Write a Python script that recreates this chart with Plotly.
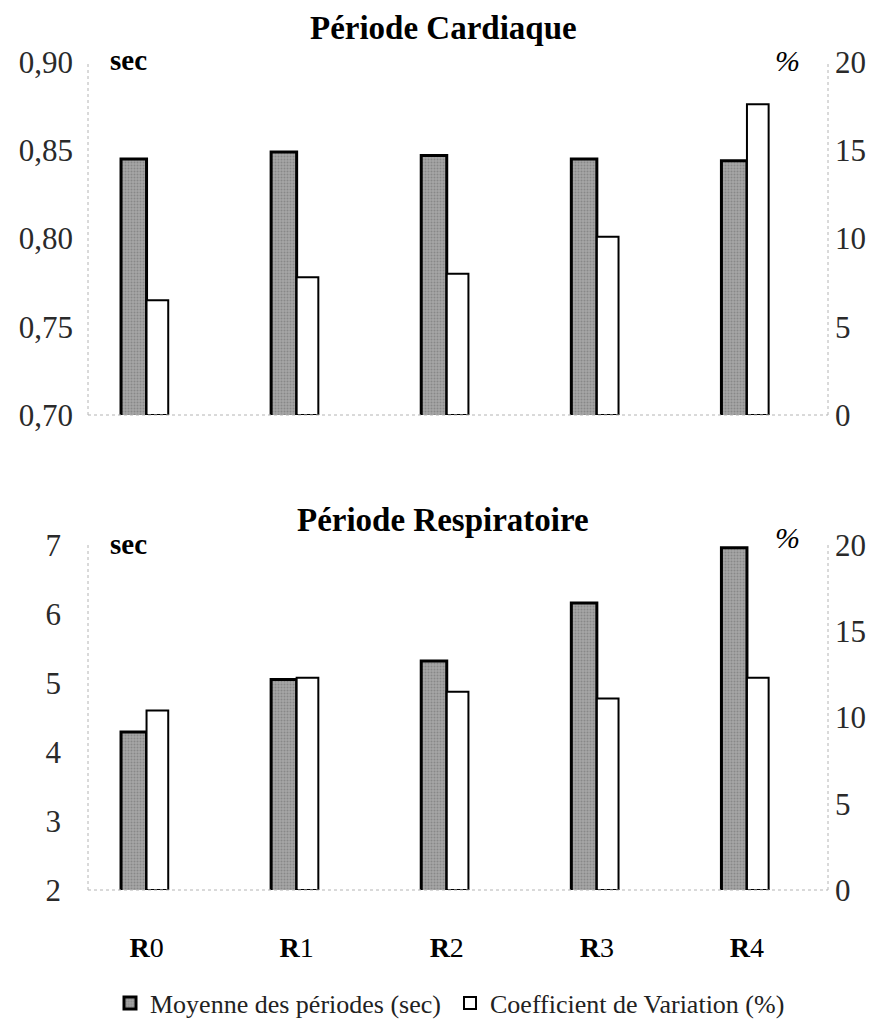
import plotly.graph_objects as go

# Groups (x axis)
categories = ["R0", "R1", "R2", "R3", "R4"]
category_text = ["<b>R</b>0", "<b>R</b>1", "<b>R</b>2", "<b>R</b>3", "<b>R</b>4"]

# Cardiac period: mean (sec) and coefficient of variation (%)
cardiac_mean = [0.845, 0.849, 0.847, 0.845, 0.844]
cardiac_cv = [6.5, 7.8, 8.0, 10.1, 17.6]

# Respiratory period: mean (sec) and coefficient of variation (%)
resp_mean = [4.29, 5.05, 5.32, 6.16, 6.96]
resp_cv = [10.4, 12.3, 11.5, 11.1, 12.3]

left_ticks_top = [0.70, 0.75, 0.80, 0.85, 0.90]
left_ticks_bottom = [2, 3, 4, 5, 6, 7]
right_ticks = [0, 5, 10, 15, 20]

SERIF = "Liberation Serif, Times New Roman, serif"
W, H = 883, 1019
GRAY = "#a6a6a6"

xdom = [88 / W, 828 / W]
top_dom = [1 - 415 / H, 1 - 62 / H]
bot_dom = [1 - 890 / H, 1 - 545 / H]
xrange_ = [-0.39, 4.54]
BW = 0.17

fig = go.Figure()


def mean_bar(y, xa, ya, show):
    return go.Bar(
        x=list(range(len(categories))), y=y, xaxis=xa, yaxis=ya,
        width=BW, offset=-BW,
        marker=dict(color=GRAY, line=dict(color="black", width=3),
                    pattern=dict(shape=".", fgcolor="#6a6a6a", bgcolor=GRAY,
                                 size=3, solidity=0.35)),
        name="Moyenne des périodes (sec)", showlegend=show,
        legendgroup="m",
    )


def cv_bar(y, xa, ya, show):
    return go.Bar(
        x=list(range(len(categories))), y=y, xaxis=xa, yaxis=ya,
        width=BW * 0.85, offset=0,
        marker=dict(color="white", line=dict(color="black", width=2)),
        name="Coefficient de Variation (%)", showlegend=show,
        legendgroup="c",
    )


fig.add_trace(mean_bar(cardiac_mean, "x", "y", True))
fig.add_trace(cv_bar(cardiac_cv, "x", "y2", True))
fig.add_trace(mean_bar(resp_mean, "x2", "y3", False))
fig.add_trace(cv_bar(resp_cv, "x2", "y4", False))

tickfont = dict(family=SERIF, size=31, color="#2a2a2a")
common_x = dict(range=xrange_, domain=xdom, showgrid=False, zeroline=False,
                showline=False, fixedrange=True)
common_y = dict(showgrid=False, zeroline=False, showline=False, ticks="",
                tickfont=tickfont)

fig.update_layout(
    width=W, height=H,
    margin=dict(l=0, r=0, t=0, b=0, autoexpand=False),
    paper_bgcolor="white", plot_bgcolor="white",
    separators=", ",
    barmode="overlay",
    xaxis=dict(**common_x, anchor="y", showticklabels=False),
    xaxis2=dict(**common_x, anchor="y3", tickmode="array",
                tickvals=list(range(len(categories))), ticktext=category_text,
                tickfont=dict(family=SERIF, size=28, color="black"),
                ticklabelstandoff=38),
    yaxis=dict(**common_y, domain=top_dom, range=[0.70, 0.90],
               tickvals=left_ticks_top, tickformat=".2f", ticklabelstandoff=14),
    yaxis2=dict(**common_y, domain=top_dom, range=[0, 20], overlaying="y",
                side="right", tickvals=right_ticks, ticklabelstandoff=6),
    yaxis3=dict(**common_y, domain=bot_dom, range=[2, 7],
                tickvals=left_ticks_bottom, ticklabelstandoff=26),
    yaxis4=dict(**common_y, domain=bot_dom, range=[0, 20], overlaying="y3",
                side="right", tickvals=right_ticks, ticklabelstandoff=6,
                anchor="x2"),
    legend=dict(orientation="h", x=110 / W, xanchor="left", y=1 - 1003 / H,
                yanchor="middle", font=dict(family=SERIF, size=26, color="#222"),
                itemwidth=30, tracegroupgap=0, entrywidth=295,
                bgcolor="rgba(0,0,0,0)"),
    showlegend=True,
)

# faint dotted axis lines
dot = dict(color="#b4b4b4", width=1, dash="dot")
for xa, ya in (("x", "y"), ("x2", "y3")):
    fig.add_shape(type="line", xref=f"{xa} domain", yref=f"{ya} domain",
                  x0=0, x1=0, y0=0, y1=1, line=dot)
    fig.add_shape(type="line", xref=f"{xa} domain", yref=f"{ya} domain",
                  x0=1, x1=1, y0=0, y1=1, line=dot)
    fig.add_shape(type="line", xref=f"{xa} domain", yref=f"{ya} domain",
                  x0=0, x1=1, y0=0, y1=0, line=dot)

# titles and unit labels
for text, y in (("Période Cardiaque", 1 - 28 / H), ("Période Respiratoire", 1 - 520 / H)):
    fig.add_annotation(text=f"<b>{text}</b>", xref="paper", yref="paper",
                       x=443 / W, y=y, xanchor="center", yanchor="middle",
                       showarrow=False,
                       font=dict(family=SERIF, size=33, color="black"))
for y in (1 - 60 / H, 1 - 544 / H):
    fig.add_annotation(text="<b>sec</b>", xref="paper", yref="paper",
                       x=128 / W, y=y, xanchor="center", yanchor="middle",
                       showarrow=False,
                       font=dict(family=SERIF, size=29, color="black"))
for y in (1 - 60 / H, 1 - 537 / H):
    fig.add_annotation(text="<i>%</i>", xref="paper", yref="paper",
                       x=787 / W, y=y, xanchor="center", yanchor="middle",
                       showarrow=False,
                       font=dict(family=SERIF, size=30, color="black"))

fig.write_html("out.html")
